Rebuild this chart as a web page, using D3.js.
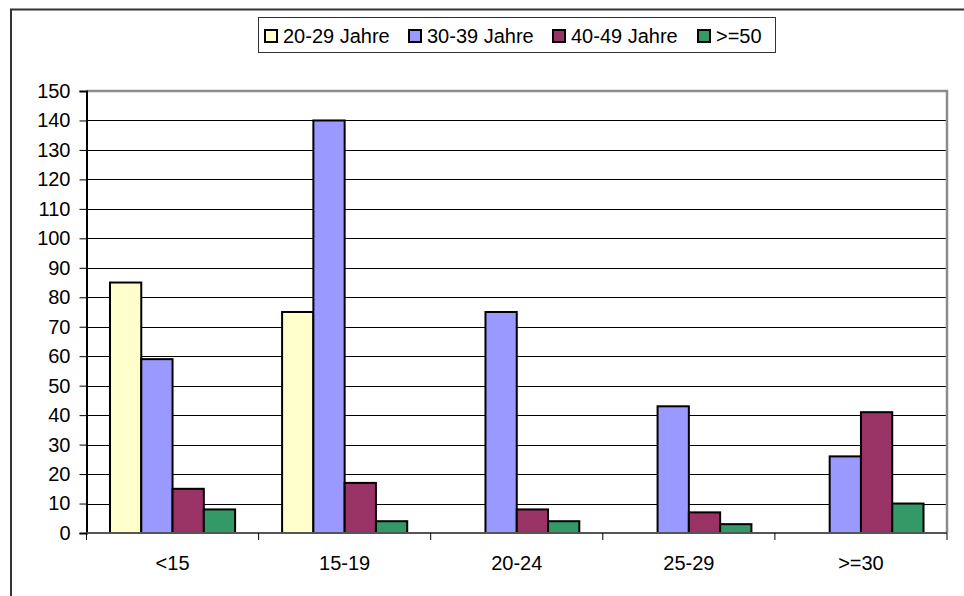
<!DOCTYPE html>
<html>
<head>
<meta charset="utf-8">
<script src="https://cdn.jsdelivr.net/npm/d3@7/dist/d3.min.js"></script>
<style>
  body { margin: 0; background: #fff; }
  svg { display: block; font-family: "Liberation Sans", Arial, sans-serif; }
</style>
</head>
<body>
<svg width="964" height="596"></svg>
<script>
// data
var categories = ["<15", "15-19", "20-24", "25-29", ">=30"];
var seriesNames = ["20-29 Jahre", "30-39 Jahre", "40-49 Jahre", ">=50"];
var seriesColors = ["#FFFFCC", "#9999FF", "#993366", "#339966"];
var values2029 = [85, 75, 0, 0, 0];
var values3039 = [59, 140, 75, 43, 26];
var values4049 = [15, 17, 8, 7, 41];
var values50 = [8, 4, 4, 3, 10];
var yTicks = [0, 10, 20, 30, 40, 50, 60, 70, 80, 90, 100, 110, 120, 130, 140, 150];

var seriesValues = [values2029, values3039, values4049, values50];

var svg = d3.select("svg"),
    plot = { left: 86.5, right: 947, top: 91, bottom: 533 };

// outer chart border (only top + left show in the picture)
svg.append("rect")
    .attr("x", 11).attr("y", 9.5)
    .attr("width", 1000).attr("height", 700)
    .attr("fill", "none")
    .attr("stroke", "#333")
    .attr("stroke-width", 2);

// scales
var x0 = d3.scaleBand()
    .domain(categories)
    .range([plot.left, plot.right]);

var gap = x0.bandwidth() * 0.1365;
var x1 = d3.scaleBand()
    .domain(seriesNames)
    .range([gap, x0.bandwidth() - gap]);

var y = d3.scaleLinear()
    .domain([0, 150])
    .range([plot.bottom, plot.top]);

// gridlines
svg.append("g").attr("class", "grid")
    .selectAll("line")
    .data(yTicks.slice(1, -1))
    .enter().append("line")
    .attr("x1", plot.left).attr("x2", plot.right)
    .attr("y1", function (d) { return Math.round(y(d)) + 0.5; })
    .attr("y2", function (d) { return Math.round(y(d)) + 0.5; })
    .attr("stroke", "#000")
    .attr("stroke-width", 1);

// plot area top/right border
svg.append("path")
    .attr("d", "M" + plot.left + "," + plot.top + "H" + plot.right + "V" + plot.bottom)
    .attr("fill", "none")
    .attr("stroke", "#8c8c8c")
    .attr("stroke-width", 2.5);

// bars
var rows = [];
categories.forEach(function (c, i) {
    seriesNames.forEach(function (s, j) {
        rows.push({ cat: c, series: s, value: seriesValues[j][i], color: seriesColors[j] });
    });
});

svg.append("g").attr("class", "bars")
    .selectAll("rect")
    .data(rows.filter(function (d) { return d.value > 0; }))
    .enter().append("rect")
    .attr("x", function (d) { return x0(d.cat) + x1(d.series); })
    .attr("y", function (d) { return y(d.value); })
    .attr("width", x1.bandwidth())
    .attr("height", function (d) { return y(0) - y(d.value); })
    .attr("fill", function (d) { return d.color; })
    .attr("stroke", "#000")
    .attr("stroke-width", 2);

// y axis
var axisY = svg.append("g")
    .attr("transform", "translate(" + plot.left + ",0)")
    .call(d3.axisLeft(y).tickValues(yTicks).tickSize(7).tickPadding(9));
axisY.select(".domain").attr("stroke", "#000").attr("stroke-width", 2);
axisY.selectAll(".tick line").attr("stroke", "#000");
axisY.selectAll("text").attr("font-size", 20).attr("fill", "#000")
    .attr("font-family", "Liberation Sans, Arial, sans-serif");

// x axis: ticks between categories
var xTickVals = categories.map(function (c) { return x0(c); }).concat([plot.right]);
var axisX = svg.append("g").attr("class", "axis-x");
axisX.append("line")
    .attr("x1", plot.left).attr("x2", plot.right)
    .attr("y1", plot.bottom).attr("y2", plot.bottom)
    .attr("stroke", "#555").attr("stroke-width", 2);
axisX.selectAll("line.tk")
    .data(xTickVals)
    .enter().append("line")
    .attr("class", "tk")
    .attr("x1", function (d) { return d; }).attr("x2", function (d) { return d; })
    .attr("y1", plot.bottom).attr("y2", plot.bottom + 7)
    .attr("stroke", "#000").attr("stroke-width", 1);
axisX.selectAll("text")
    .data(categories)
    .enter().append("text")
    .attr("x", function (d) { return x0(d) + x0.bandwidth() / 2; })
    .attr("y", 570)
    .attr("text-anchor", "middle")
    .attr("font-size", 20)
    .text(function (d) { return d; });

// legend
var legend = svg.append("g").attr("class", "legend");
legend.append("rect")
    .attr("x", 258.5).attr("y", 17.5)
    .attr("width", 517).attr("height", 35)
    .attr("fill", "#fff")
    .attr("stroke", "#333")
    .attr("stroke-width", 1);

var legendX = [265, 409, 553, 698];
var item = legend.selectAll("g.item")
    .data(seriesNames)
    .enter().append("g")
    .attr("class", "item")
    .attr("transform", function (d, i) { return "translate(" + legendX[i] + ",30)"; });

item.append("rect")
    .attr("width", 12).attr("height", 12)
    .attr("fill", function (d, i) { return seriesColors[i]; })
    .attr("stroke", "#000")
    .attr("stroke-width", 2);

item.append("text")
    .attr("x", 18)
    .attr("y", 12.5)
    .attr("font-size", 20)
    .text(function (d) { return d; });
</script>
</body>
</html>
